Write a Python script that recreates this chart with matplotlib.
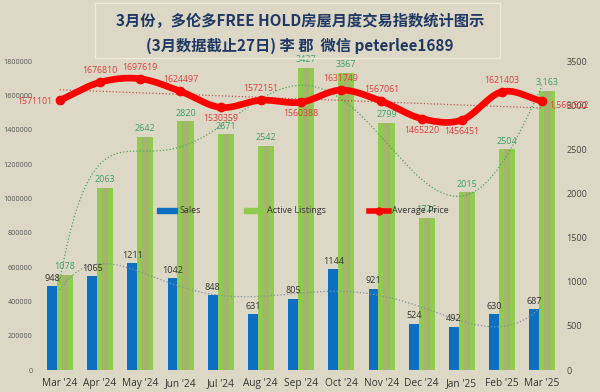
import matplotlib
matplotlib.use("Agg")
import matplotlib.pyplot as plt
import matplotlib.patches as mpatches
from matplotlib.lines import Line2D
import numpy as np

plt.rcParams['font.family'] = ['Open Sans', 'DejaVu Sans']

months = ["Mar '24", "Apr '24", "May '24", "Jun '24", "Jul '24", "Aug '24", "Sep '24",
          "Oct '24", "Nov '24", "Dec '24", "Jan '25", "Feb '25", "Mar '25"]
sales = [948, 1065, 1211, 1042, 848, 631, 805, 1144, 921, 524, 492, 630, 687]
listings = [1078, 2063, 2642, 2820, 2671, 2542, 3427, 3367, 2799, 1726, 2015, 2504, 3163]
price = [1571101, 1676810, 1697619, 1624497, 1530359, 1572151, 1560388,
         1631749, 1567061, 1465220, 1456451, 1621403, 1566522]
# 价格标签位置: 上/下/左/右
price_pos = ['l', 'a', 'a', 'a', 'b', 'a', 'b', 'a', 'a', 'b', 'b', 'a', 'r']

bg = '#ddd8c5'
blue = '#0e6ebf'
green = '#8fcb4c'
green_in = '#a2b56a'
red = '#ff0000'


def smooth(x, y, n=20):
    # Catmull-Rom 平滑曲线
    x = np.asarray(x, float)
    y = np.asarray(y, float)
    px = np.concatenate([[2 * x[0] - x[1]], x, [2 * x[-1] - x[-2]]])
    py = np.concatenate([[2 * y[0] - y[1]], y, [2 * y[-1] - y[-2]]])
    xs, ys = [], []
    t = np.linspace(0, 1, n)
    for i in range(1, len(px) - 2):
        for p, out in ((px, xs), (py, ys)):
            p0, p1, p2, p3 = p[i - 1], p[i], p[i + 1], p[i + 2]
            out.extend(0.5 * (2 * p1 + (-p0 + p2) * t + (2 * p0 - 5 * p1 + 4 * p2 - p3) * t ** 2
                              + (-p0 + 3 * p1 - 3 * p2 + p3) * t ** 3))
    return np.array(xs), np.array(ys)


x = np.arange(len(months))
fig = plt.figure(figsize=(6, 3.92), dpi=100, facecolor=bg)
ax = fig.add_axes([0.066, 0.056, 0.871, 0.788])
ax.set_facecolor(bg)
ax2 = ax.twinx()

# 柱状图画在右轴
ax2.bar(x - 0.19, sales, width=0.25, color=blue, zorder=2)
ax2.bar(x + 0.13, listings, width=0.4, color=green, zorder=2)
ax2.bar(x + 0.13, listings, width=0.16, color=green_in, zorder=2)
for i in range(len(x)):
    ax2.text(x[i] - 0.19, sales[i] + 40, str(sales[i]), ha='center', va='bottom',
             fontsize=6.5, color='#333333', zorder=5)
    lab = f"{listings[i]:,}" if i == len(x) - 1 else str(listings[i])
    ax2.text(x[i] + 0.13, listings[i] + 40, lab, ha='center', va='bottom',
             fontsize=6.5, color='#3aa06a', zorder=5)

# 趋势线
xf = np.linspace(0, len(x) - 1, 200)
ax2.plot(xf, np.polyval(np.polyfit(x, listings, 6), xf), ':', color='#4aa860', lw=0.9, zorder=3)
ax2.plot(xf, np.polyval(np.polyfit(x, sales, 6), xf), ':', color='#7f92a0', lw=0.9, zorder=3)
ax2.set_ylim(0, 3500)
ax2.set_yticks(range(0, 3501, 500))

# 价格线画在左轴
ax.set_zorder(ax2.get_zorder() + 1)
ax.patch.set_visible(False)
ax.plot(xf, np.polyval(np.polyfit(x, price, 1), xf), ':', color='#c0504d', lw=0.9)
sx, sy = smooth(x, price)
ax.plot(sx, sy, color=red, lw=4.8, solid_capstyle='round')
ax.plot(x, price, 'o', color=red, ms=6)
for i in range(len(x)):
    p = price_pos[i]
    lab = f"{price[i]:,}" if i == len(x) - 1 else str(price[i])
    kw = dict(textcoords='offset points', fontsize=6.3, color='#e03c3c')
    if p == 'a':
        ax.annotate(lab, (x[i], price[i]), xytext=(0, 5), ha='center', va='bottom', **kw)
    elif p == 'b':
        ax.annotate(lab, (x[i], price[i]), xytext=(0, -5), ha='center', va='top', **kw)
    elif p == 'l':
        ax.annotate(lab, (x[i], price[i]), xytext=(-5, -1), ha='right', va='center', **kw)
    else:
        ax.annotate(lab, (x[i], price[i]), xytext=(5, -3), ha='left', va='center', **kw)
ax.set_ylim(0, 1800000)
ax.set_yticks(range(0, 1800001, 200000))
ax.ticklabel_format(axis='y', style='plain', useOffset=False)
ax.set_xlim(-0.5, len(x) - 0.5)
ax.set_xticks(x)
ax.set_xticklabels(months)

for a in (ax, ax2):
    for s in a.spines.values():
        s.set_visible(False)
ax.tick_params(axis='x', length=0, labelsize=7.3, colors='#333333', pad=6)
ax.tick_params(axis='y', length=0, labelsize=5.2, colors='#555555', pad=5)
ax2.tick_params(axis='y', length=0, labelsize=6.5, colors='#444444', pad=3)

handles = [mpatches.Rectangle((0, 0), 1, 1, color=blue),
           mpatches.Rectangle((0, 0), 1, 1, color=green),
           Line2D([0], [0], color=red, lw=4, marker='o', ms=5)]
leg = ax.legend(handles, ['Sales', 'Active Listings', 'Average Price'], ncol=3,
                loc='center', bbox_to_anchor=(0.503, 0.515), frameon=False, fontsize=6.5,
                columnspacing=4.8, handlelength=2.2, handleheight=0.4, handletextpad=0.3)
for t in leg.get_texts():
    t.set_color('#333333')

# 标题框
fig.patches.append(mpatches.Rectangle((0.158, 0.852), 0.675, 0.14, transform=fig.transFigure,
                                      fill=False, edgecolor='#eeeadc', lw=1))
fig.text(0.5, 0.946, '3月份，多伦多FREE HOLD房屋月度交易指数统计图示', ha='center', va='center',
         fontsize=11, fontweight='bold', color='#1f3864', family=['Noto Sans CJK SC', 'DejaVu Sans'])
fig.text(0.5, 0.884, '(3月数据截止27日) 李 郡  微信 peterlee1689', ha='center', va='center',
         fontsize=11, fontweight='bold', color='#1f3864', family=['Noto Sans CJK SC', 'DejaVu Sans'])

fig.savefig('out.png', dpi=100, facecolor=bg)
